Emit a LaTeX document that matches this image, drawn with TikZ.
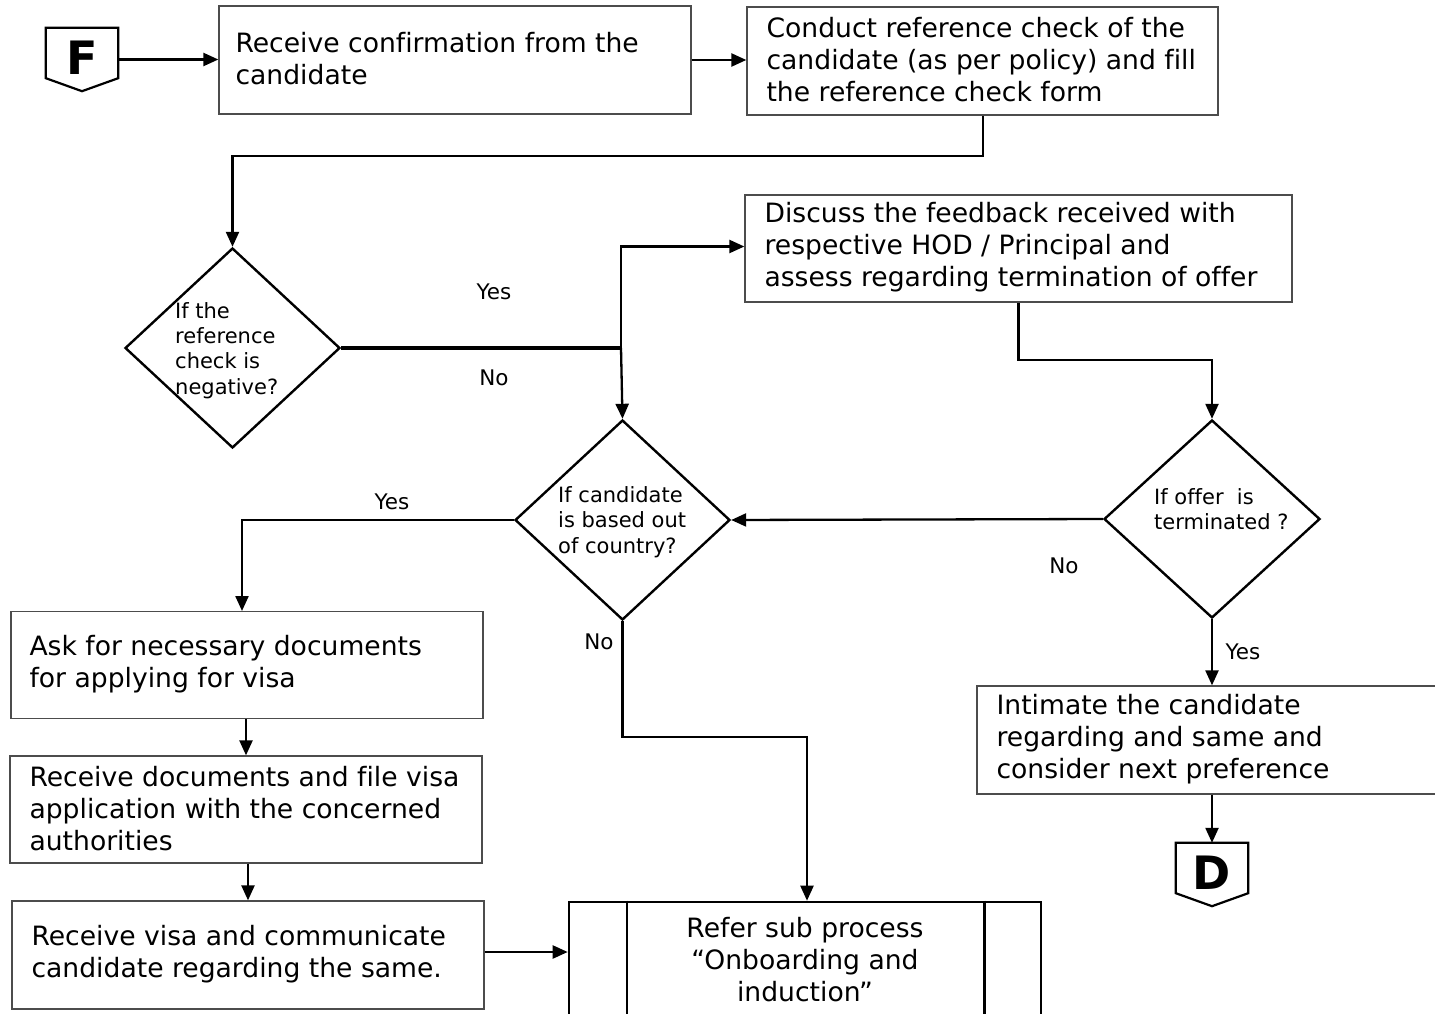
\documentclass[tikz,border=0pt]{standalone}
\usepackage{fontspec}
\setmainfont{DejaVu Sans}[Ligatures=NoCommon]
\usetikzlibrary{arrows.meta,shapes.geometric,calc}

\tikzset{
  box/.style={draw=black!70, line width=1.3pt, rectangle, inner sep=0pt},
  btext/.style={anchor=west, align=left, inner sep=0pt,
    font=\fontsize{26.6}{32}\selectfont},
  decision/.style={draw=black, line width=2.4pt, diamond, inner sep=0pt},
  dtext/.style={anchor=west, align=left, inner sep=0pt,
    font=\fontsize{21}{25.3}\selectfont},
  lbl/.style={inner sep=0pt, font=\fontsize{21.5}{24}\selectfont},
  conn/.style={line width=2.3pt, -{Triangle[length=15pt,width=13pt]}},
  heavyline/.style={line width=4.5pt},
  offpage/.style={rectangle, inner sep=0pt, minimum width=72pt, minimum height=63pt,
    font=\fontsize{46}{46}\selectfont\bfseries},
}

\begin{document}
\begin{tikzpicture}[x=1pt,y=-1pt]
\useasboundingbox (0,0) rectangle (1435,1014);

% off-page connector F
\node[offpage] (F) at (82,59.5) {\raisebox{4pt}{F}};
\draw[line width=2.2pt, line join=miter]
  (F.north west) -- (F.north east) -- ([yshift=13pt]F.south east)
  -- (F.south) -- ([yshift=13pt]F.south west) -- cycle;

% process boxes and their texts
\node[box, minimum width=472pt, minimum height=108pt] (b1) at (455,60) {};
\node[btext] (b1t) at ([xshift=17pt,yshift=1pt]b1.west) {Receive confirmation from the\\candidate};
\node[box, minimum width=471pt, minimum height=108pt] (b2) at (982.5,61) {};
\node[btext] (b2t) at ([xshift=20pt,yshift=1pt]b2.west) {Conduct reference check of the\\candidate (as per policy) and fill\\the reference check form};
\node[box, minimum width=547pt, minimum height=107pt] (b3) at (1018.5,248.5) {};
\node[btext] (b3t) at ([xshift=20pt,yshift=1pt]b3.west) {Discuss the feedback received with\\respective HOD / Principal and\\assess regarding termination of offer};
\node[box, minimum width=472pt, minimum height=108pt] (b4) at (1213,740) {};
\node[btext] (b4t) at ([xshift=20pt,yshift=1pt]b4.west) {Intimate the candidate\\regarding and same and\\consider next preference};
\node[box, minimum width=472pt, minimum height=107pt] (b5) at (247,665) {};
\node[btext] (b5t) at ([xshift=19pt,yshift=1pt]b5.west) {Ask for necessary documents\\for applying for visa};
\node[box, minimum width=472pt, minimum height=107pt] (b6) at (246,809.5) {};
\node[btext] (b6t) at ([xshift=20pt,yshift=1pt]b6.west) {Receive documents and file visa\\application with the concerned\\authorities};
\node[box, minimum width=472pt, minimum height=108pt] (b7) at (248,955) {};
\node[btext] (b7t) at ([xshift=20pt,yshift=1pt]b7.west) {Receive visa and communicate\\candidate regarding the same.};

% predefined sub-process
\node[draw=black, line width=2.6pt, rectangle, minimum width=472pt, minimum height=116pt,
  inner sep=0pt, align=center, font=\fontsize{26.6}{32}\selectfont]
  (sp) at (805,960) {Refer sub process\\\textquotedblleft Onboarding and\\induction\textquotedblright};
\draw[line width=2.4pt] ([xshift=59pt]sp.north west) -- ([xshift=59pt]sp.south west);
\draw[line width=2.4pt] ([xshift=-58pt]sp.north east) -- ([xshift=-58pt]sp.south east);

% decisions
\node[decision, minimum width=215pt, minimum height=200pt] (d1) at (232.5,348) {};
\node[dtext] (t1) at (175,350.5) {If the\\reference\\check is\\negative?};
\node[decision, minimum width=215pt, minimum height=200pt] (d2) at (622.5,520) {};
\node[dtext] (t2) at (558,522) {If candidate\\is based out\\of country?};
\node[decision, minimum width=216pt, minimum height=198pt] (d3) at (1212,519) {};
\node[dtext] (t3) at (1154,509.5) {If offer\ \ is\\terminated ?};

% off-page connector D
\node[offpage] (D) at (1212,874.5) {\raisebox{4pt}{D}};
\draw[line width=2.2pt, line join=miter]
  (D.north west) -- (D.north east) -- ([yshift=13pt]D.south east)
  -- (D.south) -- ([yshift=13pt]D.south west) -- cycle;

% routing points
\coordinate (c1) at (983,156);
\coordinate (j2) at (621,348);
\coordinate (c3) at (1019,360);
\coordinate (c5) at (242,611);
\coordinate (c6) at (807,737);

% connectors
\draw[conn] (F.east) -- (F.east -| b1.west);
\draw[conn] (b1.east) -- (b1.east -| b2.west);
\draw[conn] (b2.south -| c1) -- (c1) -| (d1.north);
\draw[heavyline] (d1.east) -- (j2);
\draw[conn] (j2) |- ([yshift=2pt]b3.west);
\draw[conn] (j2) -- (d2.north);
\draw[conn] (b3.south) |- (d3.north |- c3) -- (d3.north);
\draw[conn] (d3.west) -- (d2.east);
\draw[conn] (d3.south) -- (d3.south |- b4.north);
\draw[conn] (D.north |- b4.south) -- (D.north);
\draw[conn] (d2.west) -| (c5);
\draw[conn] (d2.south) |- (c6) -- (c6 |- sp.north);
\draw[conn] ([xshift=-1pt]b5.south) -- ([xshift=-1pt]b5.south |- b6.north);
\draw[conn] (b6.south -| b7.north) -- (b7.north);
\draw[conn] ([yshift=3pt]b7.east) -- ([yshift=3pt]b7.east -| sp.west);

% branch labels
\node[lbl] (yes1) at (494,292) {Yes};
\node[lbl] (no1) at (494,378) {No};
\node[lbl] (yes2) at (392,502) {Yes};
\node[lbl] (no2) at (599,642) {No};
\node[lbl] (no3) at (1064,566) {No};
\node[lbl] (yes3) at (1243,652) {Yes};
\end{tikzpicture}
\end{document}
